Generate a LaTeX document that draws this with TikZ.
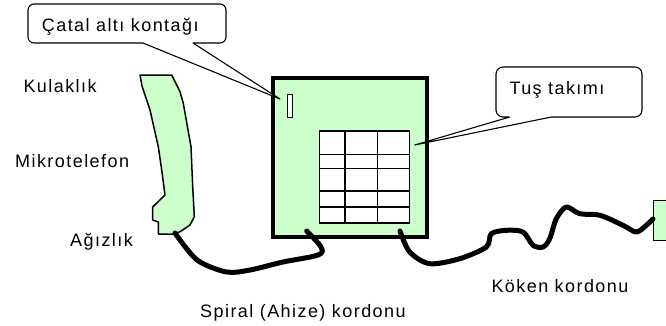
\documentclass[tikz,border=0pt]{standalone}
\usepackage{fontspec}
\setmainfont{Liberation Sans}[LetterSpace=8]
\definecolor{phonegreen}{RGB}{204,255,204}
\begin{document}
\begin{tikzpicture}[x=1pt,y=-1pt,
  lbl/.style={inner sep=0pt, anchor=base west, font=\fontsize{18}{20}\selectfont},
  callout/.style={draw=black, fill=white, line width=1.1pt, line join=round},
  cord/.style={draw=black, line width=5pt, line cap=round, line join=round},
  body/.style={draw=black, fill=phonegreen, line width=3.2pt},
  keyline/.style={draw=black, line width=1.6pt}]
\useasboundingbox (0,0) rectangle (666,325);

% telephone base
\node[body, minimum width=154pt, minimum height=159pt, inner sep=0pt] (base) at (350,157.5) {};
% hook switch
\node[draw=black, fill=white, line width=1.3pt, minimum width=5.5pt, minimum height=23pt, inner sep=0pt] (hook) at (290,105.8) {};
% keypad grid
\node[draw=black, fill=white, line width=1.6pt, minimum width=90pt, minimum height=92pt, inner sep=0pt] (keypad) at (364.3,176.9) {};
\foreach \gx in {345,377.3} \draw[keyline] (\gx,131) -- (\gx,222.7);
\foreach \gy in {154.3,168.3,191,206.7} \draw[keyline] (319.3,\gy) -- (409.3,\gy);

% handset
\draw[draw=black, fill=phonegreen, line width=1.5pt, line join=round]
  (140,75) -- (171.7,75) -- (180,91.7) -- (183.3,103.3) -- (191,146.7)
  -- (192.7,186.7) -- (194.3,216.7) -- (190,225) -- (180,231.7) -- (174,234)
  -- (158.3,234) -- (158.3,222) -- (152.7,220) -- (152.7,207) -- (165,195)
  -- (161.7,170) -- (158.3,146.7) -- (150,110) -- (142,86) -- cycle;
\coordinate (hsbot) at (175,233);

% wall jack
\node[draw=black, fill=phonegreen, line width=1.3pt, minimum width=20pt, minimum height=40pt, inner sep=0pt, anchor=north west] (jack) at (653,200) {};

% connection points of the cords
\coordinate (spiralend) at (306.7,231);
\coordinate (linestart) at (400,231);
\coordinate (jackin) at (653,219);

% handset (spiral) cord
\draw[cord] plot[smooth, tension=0.55] coordinates {(hsbot) (186.7,248.7) (200,262) (226.7,272) (250,270) (283,262) (318,255) (321,247) (spiralend)};
% line cord
\draw[cord] plot[smooth, tension=0.5] coordinates {(linestart) (409.7,252) (429.7,263.7) (459.7,258.7) (486.3,247) (491.3,233.7) (506.3,230.3) (523,232) (533,245.3) (543,247) (549.7,238.7) (556.3,218.7) (566.3,207) (579.7,213.7) (600,215.3) (623,225.3) (636.3,232) (646.3,225.3) (jackin)};

% callouts
\coordinate (hooktip) at (280,99);
\coordinate (keytip) at (414.7,145);
\draw[callout] (143,43) -- (hooktip) -- (193,43) [rounded corners=6pt] -- (226,43) -- (226,4) -- (28,4) -- (28,43) -- (143,43);
\draw[callout] (509.7,117) -- (keytip) -- (551.3,117) [rounded corners=7pt] -- (642,117) -- (642,67) -- (496,67) -- (496,117) -- (509.7,117);
\node[lbl] (hooklbl) at (41.7,31) {Çatal altı kontağı};
\node[lbl] (keylbl) at (509.3,94) {Tuş takımı};

% labels
\node[lbl] (ear) at (23.3,92) {Kulaklık};
\node[lbl] (hset) at (15,167) {Mikrotelefon};
\node[lbl] (mouth) at (70,246) {Ağızlık};
\node[lbl] (spirallbl) at (200,317) {Spiral (Ahize) kordonu};
\node[lbl] (linelbl) at (491.3,292) {Köken kordonu};
\end{tikzpicture}
\end{document}
